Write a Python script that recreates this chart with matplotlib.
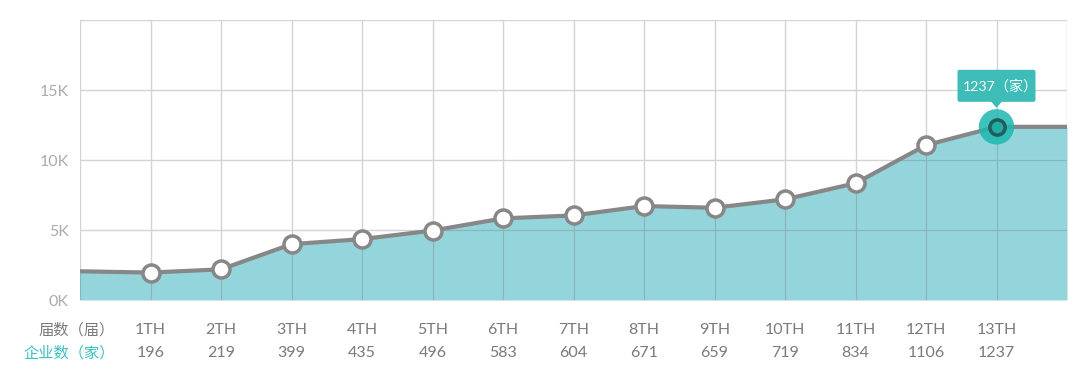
import matplotlib
matplotlib.use("Agg")
import matplotlib.pyplot as plt
from matplotlib.transforms import blended_transform_factory
from matplotlib.patches import FancyBboxPatch, Polygon
import numpy as np

plt.rcParams['font.family'] = ['Lato', 'Noto Sans CJK SC', 'DejaVu Sans']

sessions = ["1TH", "2TH", "3TH", "4TH", "5TH", "6TH", "7TH", "8TH", "9TH", "10TH", "11TH", "12TH", "13TH"]
companies = [196, 219, 399, 435, 496, 583, 604, 671, 659, 719, 834, 1106, 1237]
edge_left = 205
edge_right = 1237
scale = 10  # plotted height = companies * 10
yticks = [0, 5000, 10000, 15000]
ytick_labels = ["0K", "5K", "10K", "15K"]
row1_title = "届数（届）"
row2_title = "企业数（家）"
highlight_idx = 12
tooltip_text = "1237（家）"

fill_color = "#94d5dc"
line_color = "#878787"
grid_color = "#d3d3d3"
teal = "#3dbcb8"
text_gray = "#7a7a7a"

W, H = 1080, 376
fig = plt.figure(figsize=(W/100, H/100), dpi=100)
ax = fig.add_axes([80/W, 1-300/H, (1067-80)/W, 280/H])

xs = np.arange(1, len(sessions)+1)
line_x = np.concatenate([[0], xs, [len(sessions)+1]])
line_y = np.array([edge_left] + companies + [edge_right]) * scale

ax.set_xlim(0, len(sessions)+1)
ax.set_ylim(0, 20000)

ax.fill_between(line_x, 0, line_y, color=fill_color, zorder=1, linewidth=0)
for x in range(0, len(sessions)+2):
    ax.axvline(x, color=grid_color, lw=1.0, zorder=2)
for y in [5000, 10000, 15000, 20000]:
    ax.axhline(y, color=grid_color, lw=1.0, zorder=2)
# darker grid inside fill
for x in range(0, len(sessions)+2):
    yv = np.interp(x, line_x, line_y)
    ax.plot([x, x], [0, yv], color="#80bac1", lw=1.0, zorder=2.5)
mask_x = np.linspace(0, len(sessions)+1, 800)
for y in [5000, 10000]:
    under = np.interp(mask_x, line_x, line_y) > y
    ax.plot(np.where(under, mask_x, np.nan), np.full_like(mask_x, y), color="#80bac1", lw=1.0, zorder=2.5)

ax.plot(line_x, line_y, color=line_color, lw=3, zorder=3, solid_capstyle='butt')
pts_y = np.array(companies) * scale
mask = np.arange(len(xs)) != highlight_idx
ax.scatter(xs[mask], pts_y[mask], s=150, facecolor="white", edgecolor=line_color, linewidth=2.5, zorder=4)

hx, hy = xs[highlight_idx], pts_y[highlight_idx]
ax.scatter([hx], [hy], s=650, facecolor="#1db8b0", edgecolor="none", alpha=0.85, zorder=4)
ax.scatter([hx], [hy], s=120, facecolor="#22aaa3", edgecolor="#1f5d5e", linewidth=2.5, zorder=5)

# tooltip (built in pixel offsets from the highlighted point)
px, py = ax.transData.transform((hx, hy))
bw, bh = 78, 32
box_bottom = py + 25
box = FancyBboxPatch((px - bw/2, box_bottom), bw, bh, boxstyle="round,pad=0,rounding_size=2",
                     fc=teal, ec="none", transform=None, zorder=6)
fig.patches.append(box)
tri = Polygon([[px - 6, box_bottom + 1], [px + 6, box_bottom + 1], [px, box_bottom - 6]],
              closed=True, fc=teal, ec="none", transform=None, zorder=6)
fig.patches.append(tri)
fig.text((px + 4)/W, (box_bottom + bh/2)/H, tooltip_text, ha="center", va="center",
         color="white", fontsize=10.2, zorder=7)

ax.set_yticks(yticks)
ax.set_yticklabels(ytick_labels, color="#ababab", fontsize=11.5)
ax.set_xticks([])
ax.tick_params(axis='y', length=0, pad=8)
for s in ax.spines.values():
    s.set_visible(False)

trans = blended_transform_factory(ax.transData, fig.transFigure)
y1 = 1 - 330/H
y2 = 1 - 353/H
for x, s, c in zip(xs, sessions, companies):
    ax.text(x, y1, s, transform=trans, ha="center", va="center", fontsize=11.5, color=text_gray)
    ax.text(x, y2, str(c), transform=trans, ha="center", va="center", fontsize=11.5, color=text_gray)
fig.text(115/W, y1, row1_title, ha="right", va="center", fontsize=11, color=text_gray)
fig.text(115/W, y2, row2_title, ha="right", va="center", fontsize=11, color="#3cc0c0")

fig.savefig("out.png", dpi=100)
